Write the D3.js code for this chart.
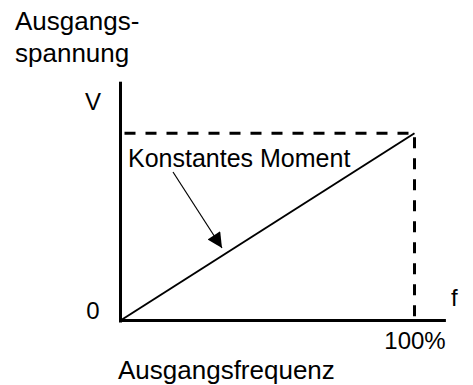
<!DOCTYPE html>
<html>
<head>
<meta charset="utf-8">
<script src="https://cdn.jsdelivr.net/npm/d3@7"></script>
<style>
  body { margin: 0; background: #fff; }
  svg text { font-family: "Liberation Sans", Arial, sans-serif; fill: #000; }
</style>
</head>
<body>
<div class="chart"></div>
<script>
// data: constant torque curve, voltage rises linearly with frequency
const freq = [0, 100]
const volt = [0, 100]
const xTicks = [100]
const yLabels = ['Ausgangs-', 'spannung']
const xLabel = 'Ausgangsfrequenz'
const note = 'Konstantes Moment'

const w = 473
const h = 385

const svg = d3.select('.chart').append('svg')
  .attr('width', w)
  .attr('height', h)

// scales (axis runs a bit past 100%)
const x = d3.scaleLinear().domain([0, 110]).range([120.5, 443.9])
const y = d3.scaleLinear().domain([0, 127]).range([320.5, 82.7])

// arrow marker
svg.append('defs').append('marker')
  .attr('id', 'head')
  .attr('viewBox', '0 0 10 10')
  .attr('refX', 10).attr('refY', 5)
  .attr('markerWidth', 17).attr('markerHeight', 15)
  .attr('markerUnits', 'userSpaceOnUse')
  .attr('orient', 'auto')
  .append('path').attr('d', 'M0,0L10,5L0,10Z').attr('fill', '#000')

// dashed guide lines to the 100% point
const vMax = volt[volt.length - 1]
const fMax = freq[freq.length - 1]
svg.append('path')
  .attr('d', d3.line()([[x(0), y(vMax)], [x(fMax), y(vMax)], [x(fMax), y(0)]]))
  .attr('fill', 'none')
  .attr('stroke', '#000')
  .attr('stroke-width', 3)
  .attr('stroke-dasharray', '11,10')
  .attr('stroke-dashoffset', -4)

// the V/f line
const data = freq.map((f, i) => [f, volt[i]])
svg.append('path')
  .datum(data)
  .attr('d', d3.line().x(d => x(d[0])).y(d => y(d[1])))
  .attr('fill', 'none')
  .attr('stroke', '#000')
  .attr('stroke-width', 2)

// axes
const xAxis = svg.append('g')
  .attr('transform', `translate(0, ${y(0) - 0.5})`)
  .call(d3.axisBottom(x).tickValues(xTicks).tickSize(0).tickPadding(12).tickFormat(d => d + '%'))
const yAxis = svg.append('g')
  .attr('transform', `translate(${x(0) - 0.5}, 0)`)
  .call(d3.axisLeft(y).tickValues([]).tickSizeOuter(0))

svg.selectAll('.domain')
  .attr('stroke', '#000')
  .attr('stroke-width', 3)
  .attr('stroke-linecap', 'square')
xAxis.attr('font-family', null).attr('font-size', null)
xAxis.selectAll('text')
  .style('font-size', '24px')
  .attr('fill', '#000')

// axis labels
svg.append('text').attr('x', 15).attr('y', 30).style('font-size', '26px').text(yLabels[0])
svg.append('text').attr('x', 15).attr('y', 62).style('font-size', '26px').text(yLabels[1])
svg.append('text').attr('x', 118).attr('y', 379).style('font-size', '26px').text(xLabel)

svg.append('text').attr('x', 85).attr('y', 110).style('font-size', '24px').text('V')
svg.append('text').attr('x', 99.5).attr('y', 319).attr('text-anchor', 'end').style('font-size', '24px').text('0')
svg.append('text').attr('x', 451).attr('y', 306).style('font-size', '24px').text('f')

// annotation
svg.append('text').attr('x', 128).attr('y', 167).style('font-size', '25px').text(note)
svg.append('line')
  .attr('x1', 173).attr('y1', 172)
  .attr('x2', 222).attr('y2', 248)
  .attr('stroke', '#000')
  .attr('stroke-width', 1.2)
  .attr('marker-end', 'url(#head)')
</script>
</body>
</html>
